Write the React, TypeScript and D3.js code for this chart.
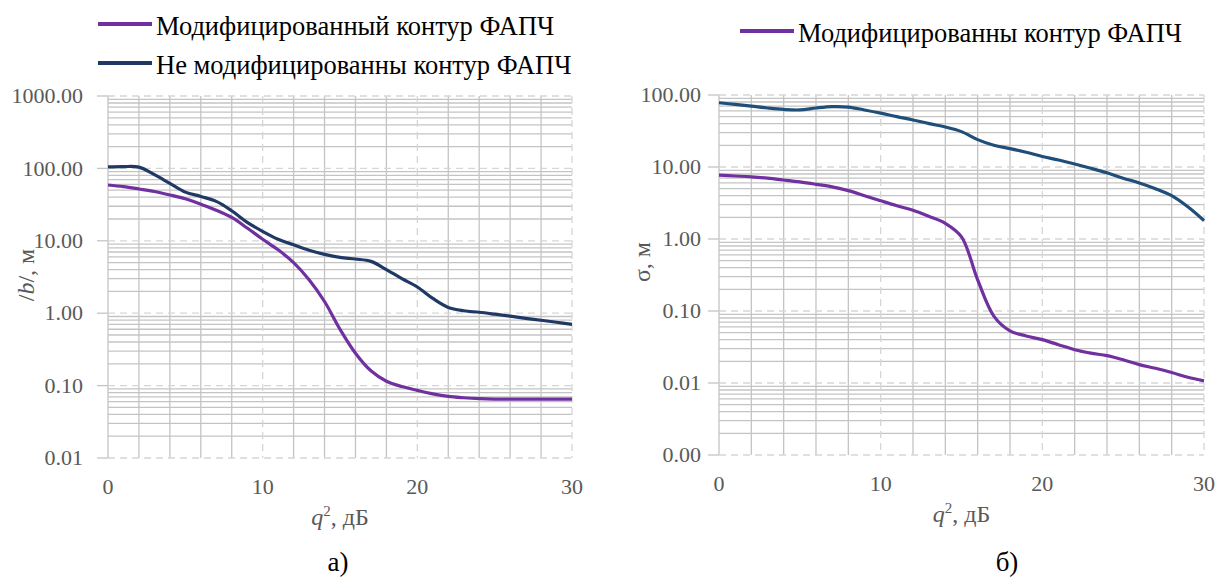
import React, { useEffect, useRef } from "react";
import * as d3 from "d3";

// q^2, dB
const qValues = [0, 1, 2, 3, 4, 5, 6, 7, 8, 9, 10, 11, 12, 13, 14, 15, 16, 17, 18, 19, 20, 21, 22, 23, 24, 25, 26, 27, 28, 29, 30];

// chart a) |b|, m
const bModified = [59, 56, 52, 48, 43, 38, 32, 26.5, 21, 15, 10.5, 7.5, 5.0, 2.9, 1.45, 0.6, 0.28, 0.16, 0.115, 0.097, 0.086, 0.077, 0.071, 0.068, 0.066, 0.065, 0.065, 0.065, 0.065, 0.065, 0.065];
const bPlain = [105, 106, 104, 82, 62, 47, 41, 35, 26, 18, 13.5, 10.5, 8.8, 7.4, 6.5, 5.9, 5.6, 5.2, 4.0, 3.0, 2.3, 1.6, 1.2, 1.08, 1.03, 0.97, 0.91, 0.85, 0.8, 0.75, 0.7];

// chart б) sigma, m
const sModified = [7.7, 7.5, 7.3, 7.0, 6.6, 6.2, 5.75, 5.3, 4.7, 4.0, 3.4, 2.9, 2.5, 2.05, 1.65, 1.07, 0.27, 0.085, 0.053, 0.045, 0.04, 0.034, 0.029, 0.026, 0.024, 0.021, 0.018, 0.016, 0.014, 0.012, 0.0107];
const sPlain = [78, 74, 70, 66, 63, 62, 66, 69, 68, 62, 56, 50, 45, 40, 36, 31, 24, 20, 18, 16, 14, 12.5, 11, 9.6, 8.3, 7, 6, 5, 4, 2.8, 1.8];

const xTicks = [0, 10, 20, 30];
const ticksA = [0.01, 0.1, 1, 10, 100, 1000];
const ticksB = [0.001, 0.01, 0.1, 1, 10, 100];

const PURPLE = "#7030A0";
const NAVY = "#1F3864";
const BLUE = "#1F4E79";
const FONT = "Liberation Serif, Times New Roman, serif";

function drawPanel(svg, opt) {
  const x = d3.scaleLinear().domain([0, 30]).range([opt.left, opt.right]);
  const y = d3.scaleLog().domain([opt.ticks[0], opt.ticks[opt.ticks.length - 1]]).range([opt.bottom, opt.top]);
  const g = svg.append("g").attr("font-family", FONT);

  // minor horizontal grid
  const minors = [];
  for (let i = 0; i < opt.ticks.length - 1; i++) {
    for (let k = 2; k <= 9; k++) minors.push(opt.ticks[i] * k);
  }
  g.selectAll(".hminor").data(minors).enter().append("line")
    .attr("x1", opt.left).attr("x2", opt.right)
    .attr("y1", d => y(d)).attr("y2", d => y(d))
    .attr("stroke", "#c4c4c4").attr("stroke-width", 1.3);

  // vertical grid every 2 dB
  const vx = d3.range(0, 31, 2);
  g.selectAll(".vgrid").data(vx).enter().append("line")
    .attr("x1", d => x(d)).attr("x2", d => x(d))
    .attr("y1", opt.top).attr("y2", opt.bottom)
    .attr("stroke", d => (d % 10 === 0 && d > 0 ? "#d6d6d6" : "#c4c4c4"))
    .attr("stroke-width", 1.3)
    .attr("stroke-dasharray", d => (d % 10 === 0 && d > 0 ? "7,5" : null));

  // decade lines (dashed)
  g.selectAll(".hmajor").data(opt.ticks).enter().append("line")
    .attr("x1", opt.left).attr("x2", opt.right)
    .attr("y1", d => y(d)).attr("y2", d => y(d))
    .attr("stroke", "#d6d6d6").attr("stroke-width", 1.3)
    .attr("stroke-dasharray", "7,5");

  // tick marks
  g.selectAll(".tick").data(opt.ticks).enter().append("line")
    .attr("x1", opt.left - 11).attr("x2", opt.left)
    .attr("y1", d => y(d)).attr("y2", d => y(d))
    .attr("stroke", "#c4c4c4").attr("stroke-width", 1.3);

  // y labels
  g.selectAll(".ylab").data(opt.ticks).enter().append("text")
    .attr("x", opt.labelEnd).attr("y", d => y(d)).attr("dy", "0.33em")
    .attr("text-anchor", "end").attr("fill", "#595959")
    .attr("font-size", 22)
    .text(d => d3.format(".2f")(d));

  // x labels
  g.selectAll(".xlab").data(xTicks).enter().append("text")
    .attr("x", d => x(d)).attr("y", opt.bottom + 36)
    .attr("text-anchor", "middle").attr("fill", "#595959")
    .attr("font-size", 22)
    .text(d => d);

  // x title
  const xt = g.append("text")
    .attr("x", (opt.left + opt.right) / 2).attr("y", opt.bottom + 67)
    .attr("text-anchor", "middle").attr("fill", "#595959")
    .attr("font-size", 24);
  xt.append("tspan").attr("font-style", "italic").text("q");
  xt.append("tspan").attr("dy", -9).attr("font-size", 15).text("2");
  xt.append("tspan").attr("dy", 9).text(", дБ");

  // y title
  const yt = g.append("text")
    .attr("transform", `translate(${opt.yTitleX},${opt.yTitleY}) rotate(-90)`)
    .attr("text-anchor", "middle").attr("fill", "#595959")
    .attr("font-size", 24);
  opt.yTitle(yt);

  // caption
  g.append("text")
    .attr("x", opt.captionX).attr("y", 571)
    .attr("text-anchor", "middle").attr("fill", "#000")
    .attr("font-size", 27)
    .text(opt.caption);

  // series
  const line = d3.line()
    .x((d, i) => x(qValues[i]))
    .y(d => y(d))
    .curve(d3.curveCatmullRom.alpha(0.5));

  opt.series.forEach(s => {
    g.append("path")
      .attr("d", line(s.values))
      .attr("fill", "none")
      .attr("stroke", s.color)
      .attr("stroke-width", 3.2)
      .attr("stroke-linejoin", "round");
  });

  // legend
  opt.legend.forEach(l => {
    g.append("line")
      .attr("x1", l.x).attr("x2", l.x + 54)
      .attr("y1", l.y).attr("y2", l.y)
      .attr("stroke", l.color).attr("stroke-width", 4);
    g.append("text")
      .attr("x", l.x + 58).attr("y", l.y + 10.5)
      .attr("fill", "#000")
      .attr("font-size", 26.5)
      .text(l.label);
  });
}

export default function App() {
  const ref = useRef(null);

  useEffect(() => {
    const svg = d3.select(ref.current);
    svg.selectAll("*").remove();

    drawPanel(svg, {
      left: 108, right: 572, top: 96, bottom: 458,
      ticks: ticksA, labelEnd: 83,
      yTitleX: 34, yTitleY: 275,
      yTitle: t => {
        t.append("tspan").text("/");
        t.append("tspan").attr("font-style", "italic").text("b");
        t.append("tspan").text("/, м");
      },
      caption: "а)", captionX: 338,
      series: [
        { values: bModified, color: PURPLE },
        { values: bPlain, color: NAVY },
      ],
      legend: [
        { x: 98, y: 24, color: PURPLE, label: "Модифицированный контур ФАПЧ" },
        { x: 98, y: 63, color: NAVY, label: "Не модифицированны контур ФАПЧ" },
      ],
    });

    drawPanel(svg, {
      left: 719, right: 1204, top: 95, bottom: 455,
      ticks: ticksB, labelEnd: 701,
      yTitleX: 650, yTitleY: 262,
      yTitle: t => {
        t.text("σ, м");
      },
      caption: "б)", captionX: 1007,
      series: [
        { values: sModified, color: PURPLE },
        { values: sPlain, color: BLUE },
      ],
      legend: [
        { x: 740, y: 31, color: PURPLE, label: "Модифицированны контур ФАПЧ" },
      ],
    });
  }, []);

  return (
    <svg ref={ref} width={1219} height={577}
      style={{ position: "absolute", left: 0, top: 0, background: "#fff" }} />
  );
}
